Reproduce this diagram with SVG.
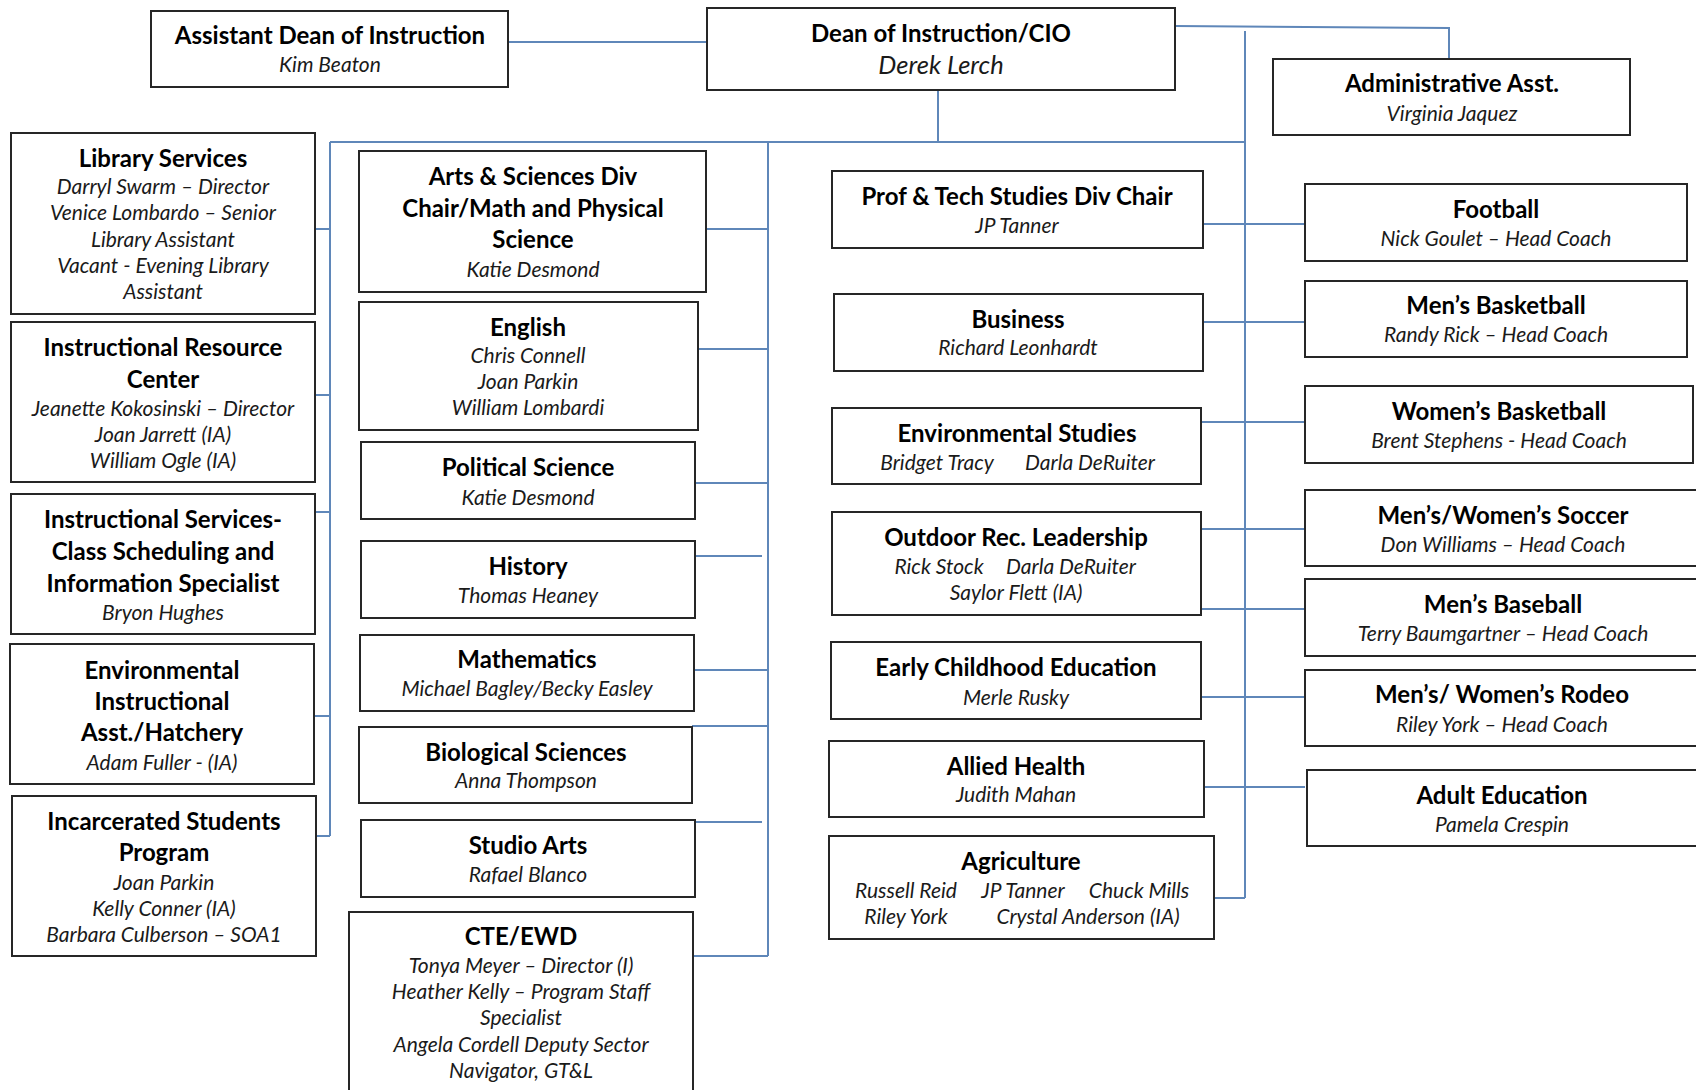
<svg xmlns="http://www.w3.org/2000/svg" width="1696" height="1090" viewBox="0 0 1696 1090">
<style>
.bg{fill:#fff}
.box{fill:#fff;stroke:#262626;stroke-width:2}
.t{font-family:Lato,"Liberation Sans",sans-serif;font-weight:bold;font-size:24px;fill:#000;text-anchor:middle}
.n{font-family:Lato,"Liberation Sans",sans-serif;font-style:italic;font-size:21px;fill:#1a1a1a;text-anchor:middle}
.c{stroke:#5f87b9;stroke-width:2;fill:none}
</style>
<rect class="bg" x="0" y="0" width="1696" height="1090"/>
<g id="connectors">
<path class="c" d="M508,42 H707"/>
<path class="c" d="M1175,26 L1449,28 V59"/>
<path class="c" d="M938,90 V142"/>
<path class="c" d="M330,142 H1245"/>
<path class="c" d="M1245,31 V898"/>
<path class="c" d="M330,142 V836"/>
<path class="c" d="M315,229 H330 M315,395 H330 M315,512 H330 M314,716 H330 M316,836 H330"/>
<path class="c" d="M768,142 V956"/>
<path class="c" d="M706,229 H768 M698,349 H768 M695,483 H768 M695,556 H762 M694,670 H768 M692,726 H768 M695,822 H762 M693,956 H768"/>
<path class="c" d="M1203,224 H1305 M1203,322 H1305 M1201,422 H1305 M1201,529 H1305 M1201,609 H1305 M1201,697 H1305 M1204,787 H1305 M1214,898 H1245"/>
</g>
<g id="asst-dean"><rect class="box" x="151" y="11" width="357" height="76"/><text class="t" x="330" y="44">Assistant Dean of Instruction</text><text class="n" x="330" y="72">Kim Beaton</text></g>
<g id="dean"><rect class="box" x="707" y="8" width="468" height="82"/><text class="t" x="941" y="42">Dean of Instruction/CIO</text><text class="n" x="941" y="74" style="font-size:25.5px">Derek Lerch</text></g>
<g id="admin"><rect class="box" x="1273" y="59" width="357" height="76"/><text class="t" x="1452" y="92">Administrative Asst.</text><text class="n" x="1452" y="121">Virginia Jaquez</text></g>

<g id="library"><rect class="box" x="11" y="133" width="304" height="181"/><text class="t" x="163" y="167">Library Services</text><text class="n" x="163" y="194">Darryl Swarm – Director</text><text class="n" x="163" y="220">Venice Lombardo – Senior</text><text class="n" x="163" y="247">Library Assistant</text><text class="n" x="163" y="273">Vacant - Evening Library</text><text class="n" x="163" y="299">Assistant</text></g>
<g id="irc"><rect class="box" x="11" y="322" width="304" height="160"/><text class="t" x="163" y="356">Instructional Resource</text><text class="t" x="163" y="388">Center</text><text class="n" x="163" y="416">Jeanette Kokosinski – Director</text><text class="n" x="163" y="442">Joan Jarrett (IA)</text><text class="n" x="163" y="468">William Ogle (IA)</text></g>
<g id="instr-services"><rect class="box" x="11" y="494" width="304" height="140"/><text class="t" x="163" y="528">Instructional Services-</text><text class="t" x="163" y="560">Class Scheduling and</text><text class="t" x="163" y="592">Information Specialist</text><text class="n" x="163" y="620">Bryon Hughes</text></g>
<g id="env-instr"><rect class="box" x="10" y="644" width="304" height="140"/><text class="t" x="162" y="679">Environmental</text><text class="t" x="162" y="710">Instructional</text><text class="t" x="162" y="741">Asst./Hatchery</text><text class="n" x="162" y="770">Adam Fuller - (IA)</text></g>
<g id="incarcerated"><rect class="box" x="12" y="796" width="304" height="160"/><text class="t" x="164" y="830">Incarcerated Students</text><text class="t" x="164" y="861">Program</text><text class="n" x="164" y="890">Joan Parkin</text><text class="n" x="164" y="916">Kelly Conner (IA)</text><text class="n" x="164" y="942">Barbara Culberson – SOA1</text></g>

<g id="arts-sciences"><rect class="box" x="359" y="151" width="347" height="141"/><text class="t" x="533" y="185">Arts &amp; Sciences Div</text><text class="t" x="533" y="217">Chair/Math and Physical</text><text class="t" x="533" y="248">Science</text><text class="n" x="533" y="277">Katie Desmond</text></g>
<g id="english"><rect class="box" x="359" y="302" width="339" height="128"/><text class="t" x="528" y="336">English</text><text class="n" x="528" y="363">Chris Connell</text><text class="n" x="528" y="389">Joan Parkin</text><text class="n" x="528" y="415">William Lombardi</text></g>
<g id="political-science"><rect class="box" x="361" y="442" width="334" height="77"/><text class="t" x="528" y="476">Political Science</text><text class="n" x="528" y="505">Katie Desmond</text></g>
<g id="history"><rect class="box" x="361" y="541" width="334" height="77"/><text class="t" x="528" y="575">History</text><text class="n" x="528" y="603">Thomas Heaney</text></g>
<g id="mathematics"><rect class="box" x="360" y="635" width="334" height="76"/><text class="t" x="527" y="668">Mathematics</text><text class="n" x="527" y="696">Michael Bagley/Becky Easley</text></g>
<g id="biological"><rect class="box" x="359" y="727" width="333" height="76"/><text class="t" x="526" y="761">Biological Sciences</text><text class="n" x="526" y="788">Anna Thompson</text></g>
<g id="studio-arts"><rect class="box" x="361" y="820" width="334" height="77"/><text class="t" x="528" y="854">Studio Arts</text><text class="n" x="528" y="882">Rafael Blanco</text></g>
<g id="cte"><rect class="box" x="349" y="912" width="344" height="200"/><text class="t" x="521" y="945">CTE/EWD</text><text class="n" x="521" y="973">Tonya Meyer – Director (I)</text><text class="n" x="521" y="999">Heather Kelly – Program Staff</text><text class="n" x="521" y="1025">Specialist</text><text class="n" x="521" y="1052">Angela Cordell Deputy Sector</text><text class="n" x="521" y="1078">Navigator, GT&amp;L</text></g>

<g id="prof-tech"><rect class="box" x="832" y="171" width="371" height="77"/><text class="t" x="1017" y="205">Prof &amp; Tech Studies Div Chair</text><text class="n" x="1017" y="233">JP Tanner</text></g>
<g id="business"><rect class="box" x="834" y="294" width="369" height="77"/><text class="t" x="1018" y="328">Business</text><text class="n" x="1018" y="355">Richard Leonhardt</text></g>
<g id="env-studies"><rect class="box" x="832" y="408" width="369" height="76"/><text class="t" x="1017" y="442">Environmental Studies</text><text class="n" x="937" y="470">Bridget Tracy</text><text class="n" x="1090" y="470">Darla DeRuiter</text></g>
<g id="outdoor-rec"><rect class="box" x="832" y="512" width="369" height="103"/><text class="t" x="1016" y="546">Outdoor Rec. Leadership</text><text class="n" x="939" y="574">Rick Stock</text><text class="n" x="1071" y="574">Darla DeRuiter</text><text class="n" x="1016" y="600">Saylor Flett (IA)</text></g>
<g id="early-childhood"><rect class="box" x="831" y="642" width="370" height="77"/><text class="t" x="1016" y="676">Early Childhood Education</text><text class="n" x="1016" y="705">Merle Rusky</text></g>
<g id="allied-health"><rect class="box" x="829" y="741" width="375" height="76"/><text class="t" x="1016" y="775">Allied Health</text><text class="n" x="1016" y="802">Judith Mahan</text></g>
<g id="agriculture"><rect class="box" x="829" y="836" width="385" height="103"/><text class="t" x="1021" y="870">Agriculture</text><text class="n" x="906" y="898">Russell Reid</text><text class="n" x="1023" y="898">JP Tanner</text><text class="n" x="1139" y="898">Chuck Mills</text><text class="n" x="906" y="924">Riley York</text><text class="n" x="1088" y="924">Crystal Anderson (IA)</text></g>

<g id="football"><rect class="box" x="1305" y="184" width="382" height="77"/><text class="t" x="1496" y="218">Football</text><text class="n" x="1496" y="246">Nick Goulet – Head Coach</text></g>
<g id="mens-basketball"><rect class="box" x="1305" y="281" width="382" height="76"/><text class="t" x="1496" y="314">Men’s Basketball</text><text class="n" x="1496" y="342">Randy Rick – Head Coach</text></g>
<g id="womens-basketball"><rect class="box" x="1305" y="386" width="388" height="77"/><text class="t" x="1499" y="420">Women’s Basketball</text><text class="n" x="1499" y="448">Brent Stephens - Head Coach</text></g>
<g id="soccer"><rect class="box" x="1305" y="490" width="400" height="76"/><text class="t" x="1503" y="524">Men’s/Women’s Soccer</text><text class="n" x="1503" y="552">Don Williams – Head Coach</text></g>
<g id="baseball"><rect class="box" x="1305" y="579" width="400" height="77"/><text class="t" x="1503" y="613">Men’s Baseball</text><text class="n" x="1503" y="641">Terry Baumgartner – Head Coach</text></g>
<g id="rodeo"><rect class="box" x="1305" y="670" width="400" height="76"/><text class="t" x="1502" y="703">Men’s/ Women’s Rodeo</text><text class="n" x="1502" y="732">Riley York – Head Coach</text></g>
<g id="adult-ed"><rect class="box" x="1307" y="770" width="400" height="76"/><text class="t" x="1502" y="804">Adult Education</text><text class="n" x="1502" y="832">Pamela Crespin</text></g>
</svg>
